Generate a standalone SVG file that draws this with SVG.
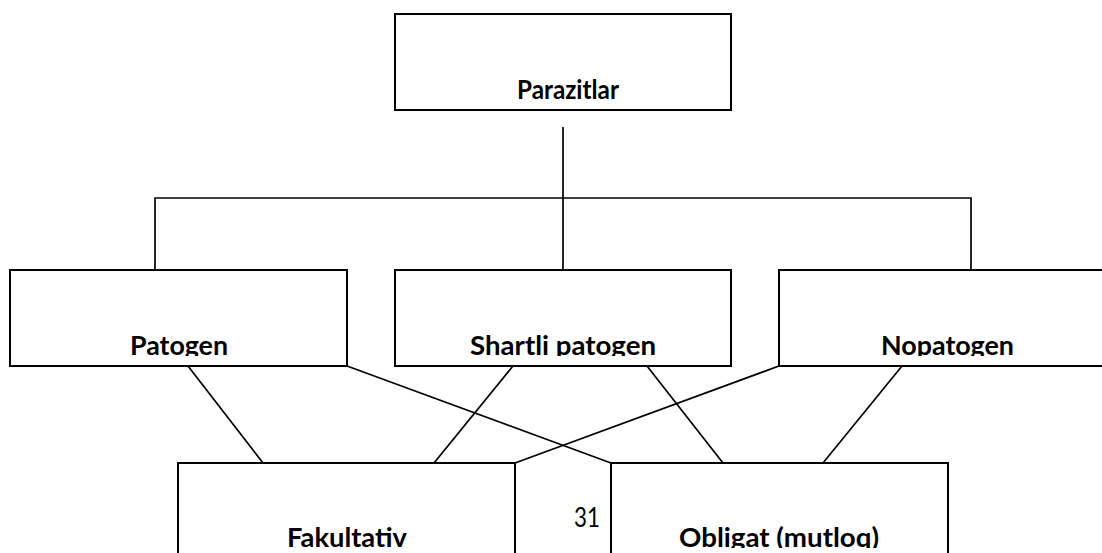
<svg xmlns="http://www.w3.org/2000/svg" width="1102" height="553" viewBox="0 0 1102 553">
<style>
.box{fill:#fff;stroke:#000;stroke-width:2}
.lbl{font-family:Lato,"Open Sans","Liberation Sans",sans-serif;font-weight:bold;font-size:27px;fill:#000;text-anchor:middle}
.num{font-family:Lato,"Open Sans","Liberation Sans",sans-serif;font-size:26px;fill:#000;text-anchor:middle}
.ln{stroke:#000;stroke-width:1.7;fill:none}
</style>
<defs>
<clipPath id="cTop"><rect x="395" y="14" width="336" height="86"/></clipPath>
<clipPath id="cPat"><rect x="10" y="270" width="337" height="86"/></clipPath>
<clipPath id="cSha"><rect x="395" y="270" width="336" height="86"/></clipPath>
<clipPath id="cNop"><rect x="779" y="270" width="337" height="86"/></clipPath>
<clipPath id="cFak"><rect x="178" y="463" width="337" height="85"/></clipPath>
<clipPath id="cObl"><rect x="611" y="463" width="337" height="85"/></clipPath>
</defs>
<g id="connectors">
<path class="ln" d="M563 127V198M155 270V198H971V270M563 198V270"/>
<line class="ln" x1="188" y1="366" x2="263" y2="463"/>
<line class="ln" x1="347" y1="366" x2="611" y2="463"/>
<line class="ln" x1="513" y1="366" x2="434" y2="463"/>
<line class="ln" x1="647" y1="366" x2="723" y2="463"/>
<line class="ln" x1="779" y1="366" x2="515" y2="463"/>
<line class="ln" x1="902" y1="366" x2="823" y2="463"/>
</g>
<g id="parazitlar">
<rect class="box" x="395" y="14" width="336" height="96"/>
<text class="lbl" x="568" y="99" font-size="25" textLength="102" lengthAdjust="spacingAndGlyphs" clip-path="url(#cTop)">Parazitlar</text>
</g>
<g id="patogen">
<rect class="box" x="10" y="270" width="337" height="96"/>
<text class="lbl" x="179" y="355" textLength="98" lengthAdjust="spacingAndGlyphs" clip-path="url(#cPat)">Patogen</text>
</g>
<g id="shartli">
<rect class="box" x="395" y="270" width="336" height="96"/>
<text class="lbl" x="563" y="355" textLength="186" lengthAdjust="spacingAndGlyphs" clip-path="url(#cSha)">Shartli patogen</text>
</g>
<g id="nopatogen">
<rect class="box" x="779" y="270" width="337" height="96"/>
<text class="lbl" x="947.5" y="355" textLength="133" lengthAdjust="spacingAndGlyphs" clip-path="url(#cNop)">Nopatogen</text>
</g>
<g id="fakultativ">
<rect class="box" x="178" y="463" width="337" height="96"/>
<text class="lbl" x="347" y="547" textLength="120" lengthAdjust="spacingAndGlyphs" clip-path="url(#cFak)">Fakultativ</text>
</g>
<g id="obligat">
<rect class="box" x="611" y="463" width="337" height="96"/>
<text class="lbl" x="779" y="547" textLength="200" lengthAdjust="spacingAndGlyphs" clip-path="url(#cObl)">Obligat (mutloq)</text>
</g>
<text class="num" x="587" y="527" textLength="26" lengthAdjust="spacingAndGlyphs">31</text>
</svg>
